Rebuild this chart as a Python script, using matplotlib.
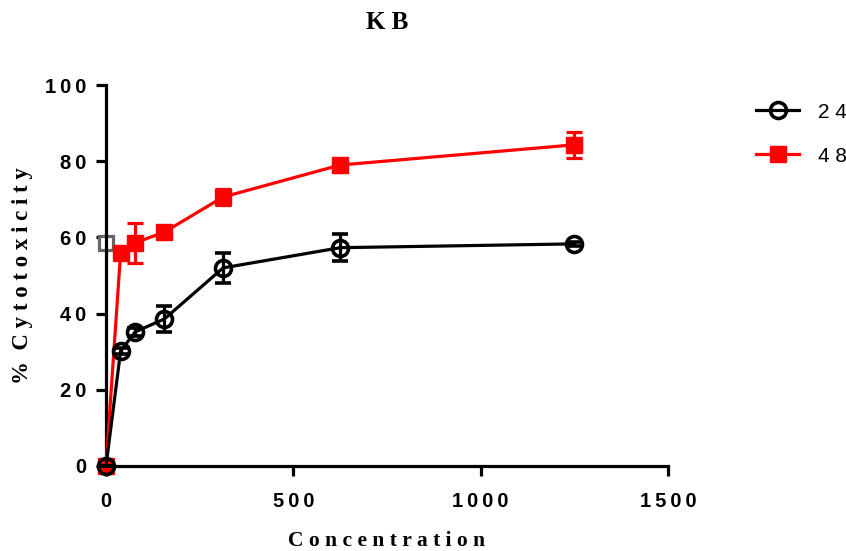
import numpy as np
import matplotlib
matplotlib.use('Agg')
import matplotlib.pyplot as plt
from matplotlib.lines import Line2D
from matplotlib.ticker import FuncFormatter

# ── data ──
conc = [0, 39, 78, 156, 312.5, 625, 1250]

cyto_24 = [0, 30.2, 35.2, 38.6, 52.0, 57.3, 58.3]
err_24  = [0, 0.8, 1.0, 3.3, 4.0, 3.6, 0.5]

cyto_48 = [0, 56.0, 58.6, 61.4, 70.6, 79.0, 84.3]
err_48  = [0, 1.5, 5.2, 1.0, 2.0, 1.0, 3.4]

# lone grey marker sitting on the y axis
extra_x = [0]
extra_y = [58.5]

series_labels = ['24', '48']

SANS  = 'Liberation Sans'
SERIF = 'Liberation Serif'
THIN  = '\u2009'
RED   = '#ff0000'


def spaced(s):
    return THIN.join(s)


fig = plt.figure(figsize=(8.46, 5.51), dpi=100, facecolor='white')
ax = fig.add_axes([0.1253, 0.1543, 0.6643, 0.6914])

# red series first so the black circles sit on top
ax.errorbar(conc, cyto_48, yerr=err_48, color=RED, lw=2.3,
            marker='s', ms=11, mec=RED, mfc=RED,
            elinewidth=2.3, capsize=5.5, capthick=2.3,
            clip_on=False, zorder=3)
ax.errorbar(conc, cyto_24, yerr=err_24, color='black', lw=2.3,
            marker='o', ms=11.5, mec='black', mfc='none', mew=2.6,
            elinewidth=2.3, capsize=5.5, capthick=2.3,
            clip_on=False, zorder=4)
ax.plot(extra_x, extra_y, linestyle='none', marker='s', ms=10,
        mfc='white', mec='#666666', mew=2.3, clip_on=False, zorder=2)

ax.set_xlim(0, 1500)
ax.set_ylim(0, 100)
ax.set_xticks([0, 500, 1000, 1500])
ax.set_yticks([0, 20, 40, 60, 80, 100])
fmt = FuncFormatter(lambda v, p: spaced(f'{v:.0f}'))
ax.xaxis.set_major_formatter(fmt)
ax.yaxis.set_major_formatter(fmt)

for s in ['top', 'right']:
    ax.spines[s].set_visible(False)
for s in ['left', 'bottom']:
    ax.spines[s].set_linewidth(2.3)
ax.tick_params(axis='both', direction='out', length=7, width=2.3)
ax.tick_params(axis='x', pad=12)
ax.tick_params(axis='y', pad=7)
for lab in ax.get_xticklabels() + ax.get_yticklabels():
    lab.set_fontfamily(SANS)
    lab.set_fontweight('bold')
    lab.set_fontsize(14.5)

ax.set_title('K B', fontfamily=SERIF, fontweight='bold', fontsize=18, pad=40)
ax.set_xlabel(' '.join('Concentration'), fontfamily=SERIF,
              fontweight='bold', fontsize=15.5, labelpad=14)
ax.set_ylabel('%  ' + ' '.join('Cytotoxicity'), fontfamily=SERIF,
              fontweight='bold', fontsize=16.5, labelpad=9)

handles = [
    Line2D([], [], color='black', lw=2.3, marker='o', ms=11.5,
           mec='black', mfc='none', mew=2.6),
    Line2D([], [], color=RED, lw=2.3, marker='s', ms=11,
           mec=RED, mfc=RED),
]
fig.legend(handles, [' '.join(s) for s in series_labels], loc='upper left',
           bbox_to_anchor=(0.876, 0.84), frameon=False,
           prop={'family': SANS, 'size': 15},
           handlelength=2.1, handletextpad=0.9, labelspacing=1.2,
           borderpad=0.2)

fig.savefig('out.png', dpi=100, facecolor='white')
